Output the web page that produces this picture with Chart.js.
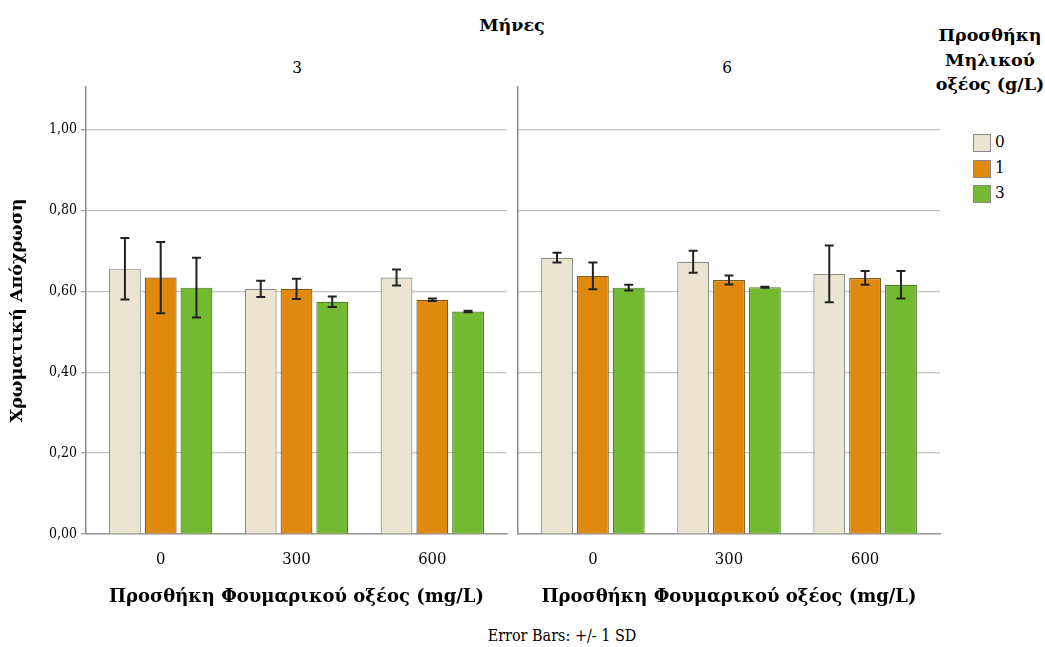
<!DOCTYPE html>
<html>
<head>
<meta charset="utf-8">
<script src="https://cdn.jsdelivr.net/npm/chart.js@4/dist/chart.umd.min.js"></script>
<style>
  body { margin: 0; background: #fff; font-family: "DejaVu Serif", serif; color: #000; }
  #wrap { position: relative; width: 1045px; height: 647px; }
  .lbl { position: absolute; white-space: nowrap; }
  canvas { position: absolute; }
  .sw { position: absolute; width: 16px; height: 16px; border: 1px solid #888; }
  .cnd { font-family: 'DejaVu Serif Condensed', 'DejaVu Serif', serif; }
</style>
</head>
<body>
<div id="wrap">
  <div class="lbl" style="left:412px; width:200px; text-align:center; top:15px; font-size:17.5px; font-weight:bold;">Μήνες</div>
  <div class="lbl cnd" style="left:247px; width:100px; text-align:center; top:57px; font-size:17px;">3</div>
  <div class="lbl cnd" style="left:677px; width:100px; text-align:center; top:57px; font-size:17px;">6</div>
  <div class="lbl" style="left:922px; top:23px; width:136px; text-align:center; font-size:17.5px; font-weight:bold; line-height:24.5px; white-space:normal;">Προσθήκη<br>Μηλικού<br>οξέος (g/L)</div>
  <div id="legend"></div>
  <div class="lbl cnd" style="left:462px; width:200px; text-align:center; top:626px; font-size:16px;">Error Bars: +/- 1 SD</div>
  <canvas id="c3" width="512" height="540" style="left:0; top:80px;"></canvas>
  <canvas id="c6" width="435" height="540" style="left:512px; top:80px;"></canvas>
</div>
<script>
// categories and groups
fumaric = ['0', '300', '600'];
malic = ['0', '1', '3'];
colors = ['#ebe4d0', '#e0890f', '#73b931'];
borders = ['#8c8c8c', '#7a5a2a', '#4f7a2a'];

// month 3 : means and SD, one array per malic level
m3_mean_0 = [0.656, 0.606, 0.634];
m3_mean_1 = [0.634, 0.606, 0.579];
m3_mean_3 = [0.609, 0.574, 0.550];
m3_sd_0 = [0.076, 0.020, 0.020];
m3_sd_1 = [0.088, 0.025, 0.003];
m3_sd_3 = [0.074, 0.013, 0.002];

// month 6
m6_mean_0 = [0.683, 0.673, 0.643];
m6_mean_1 = [0.638, 0.628, 0.633];
m6_mean_3 = [0.609, 0.610, 0.616];
m6_sd_0 = [0.012, 0.027, 0.070];
m6_sd_1 = [0.033, 0.011, 0.017];
m6_sd_3 = [0.007, 0.001, 0.034];

yTicks = [0, 0.2, 0.4, 0.6, 0.8, 1.0];

condensed = "'DejaVu Serif Condensed', 'DejaVu Serif', serif";

// legend
legendHtml = '';
for (let i = 0; i < malic.length; i++) {
  let top = 134 + i * 25.5;
  legendHtml += '<div class="sw" style="left:973px; top:' + top + 'px; background:' + colors[i] + ';"></div>';
  legendHtml += '<div class="lbl cnd" style="left:995px; top:' + (top - 3) + 'px; font-size:17px;">' + malic[i] + '</div>';
}
document.getElementById('legend').innerHTML = legendHtml;

// error bars drawn from the dataset's sd array through the scales
errorBars = {
  id: 'errorBars',
  afterDatasetsDraw(chart) {
    const ctx = chart.ctx;
    const y = chart.scales.y;
    ctx.save();
    ctx.strokeStyle = '#222';
    ctx.lineWidth = 2;
    chart.data.datasets.forEach(function(ds, di) {
      const meta = chart.getDatasetMeta(di);
      meta.data.forEach(function(bar, i) {
        const m = ds.data[i].y, sd = ds.sd[i];
        const yt = y.getPixelForValue(m + sd);
        const yb = y.getPixelForValue(m - sd);
        const x = bar.x;
        ctx.beginPath();
        ctx.moveTo(x, yt); ctx.lineTo(x, yb);
        ctx.moveTo(x - 4.5, yt); ctx.lineTo(x + 4.5, yt);
        ctx.moveTo(x - 4.5, yb); ctx.lineTo(x + 4.5, yb);
        ctx.stroke();
      });
    });
    ctx.restore();
  }
};

function makeDatasets(means, sds) {
  let out = [];
  for (let i = 0; i < malic.length; i++) {
    out.push({
      label: malic[i],
      data: means[i].map(function(v, j) { return { x: j, y: v }; }),
      sd: sds[i],
      backgroundColor: colors[i],
      borderColor: borders[i],
      borderWidth: 1.2,
      categoryPercentage: 0.79,
      barPercentage: 0.89,
    });
  }
  return out;
}

function noPad(scale) {
  scale.paddingTop = 0;
  scale.paddingBottom = 0;
  scale.paddingLeft = 0;
  scale.paddingRight = 0;
}

function plot_panel(canvasId, datasets, showY) {
  const options = {
    responsive: false,
    animation: false,
    layout: { padding: { top: 7, right: showY ? 5 : 7, left: 0, bottom: 0 } },
    plugins: { legend: { display: false }, tooltip: { enabled: false } },
    scales: {
      x: {
        type: 'linear',
        offset: false,
        min: -0.55,
        max: 2.55,
        afterBuildTicks: function(scale) {
          scale.ticks = fumaric.map(function(f, j) { return { value: j }; });
        },
        grid: { display: false, offset: false },
        border: { color: '#9a9a9a', width: 1.5 },
        ticks: {
          color: '#000', padding: 8, font: { family: condensed, size: 16.5 },
          callback: function(v) { return fumaric[v]; }
        },
        title: {
          display: true,
          text: 'Προσθήκη Φουμαρικού οξέος (mg/L)',
          color: '#000',
          font: { family: 'DejaVu Serif', size: 18, weight: 'bold' },
          padding: { top: 0, bottom: 12 }
        },
        afterFit: function(scale) { noPad(scale); scale.height = 86; }
      },
      y: {
        min: 0,
        max: 1.105,
        afterBuildTicks: function(scale) {
          scale.ticks = yTicks.map(function(v) { return { value: v }; });
        },
        grid: {
          color: '#c4c4c4',
          lineWidth: 1.2,
          drawTicks: showY,
          tickLength: 5,
          tickColor: '#9a9a9a'
        },
        border: { color: '#8a8a8a', width: 1.5 },
        ticks: {
          display: showY,
          color: '#000',
          padding: 4,
          font: { family: condensed, size: 14 },
          callback: function(v) { return v.toFixed(2).replace('.', ','); }
        },
        title: {
          display: showY,
          text: 'Χρωματική Απόχρωση',
          color: '#000',
          font: { family: 'DejaVu Serif', size: 17.5, weight: 'bold' },
          padding: { top: 7, bottom: 0 }
        },
        afterFit: function(scale) { noPad(scale); scale.width = showY ? 86 : 6; }
      }
    }
  };
  const ctx = document.getElementById(canvasId).getContext('2d');
  return new Chart(ctx, {
    type: 'bar',
    data: { datasets: datasets },
    options: options,
    plugins: [errorBars]
  });
}

plot_panel('c3', makeDatasets([m3_mean_0, m3_mean_1, m3_mean_3], [m3_sd_0, m3_sd_1, m3_sd_3]), true);
plot_panel('c6', makeDatasets([m6_mean_0, m6_mean_1, m6_mean_3], [m6_sd_0, m6_sd_1, m6_sd_3]), false);
</script>
</body>
</html>
